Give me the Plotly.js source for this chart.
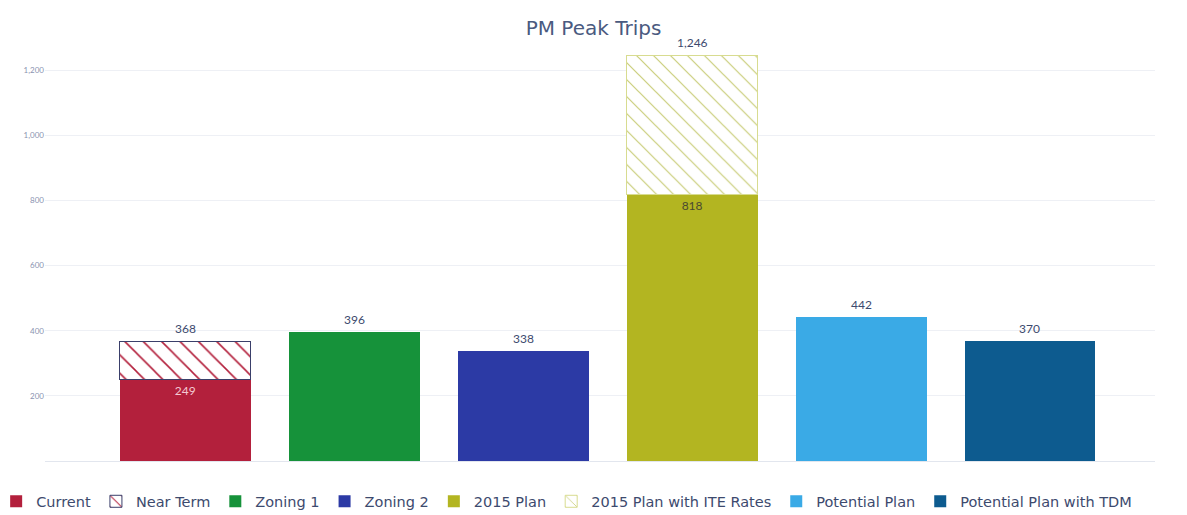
<!DOCTYPE html>
<html>
<head>
<meta charset="utf-8">
<script src="https://cdn.plot.ly/plotly-3.0.1.min.js"></script>
<style>html,body{margin:0;padding:0;background:#fff;}#chart{width:1187px;height:515px;}</style>
</head>
<body>
<div id="chart"></div>
<script>
// Data
const categories = ["Current", "Zoning 1", "Zoning 2", "2015 Plan", "Potential Plan", "Potential Plan with TDM"];
const seriesNames = ["Current", "Near Term", "Zoning 1", "Zoning 2", "2015 Plan", "2015 Plan with ITE Rates", "Potential Plan", "Potential Plan with TDM"];
const currentValue = 249;
const nearTermTotal = 368;
const zoning1Value = 396;
const zoning2Value = 338;
const plan2015Value = 818;
const plan2015IteTotal = 1246;
const potentialPlanValue = 442;
const potentialTdmValue = 370;
const yTickVals = [200, 400, 600, 800, 1000, 1200];
const yTickText = ["200", "400", "600", "800", "1,000", "1,200"];

const fmt = v => v.toLocaleString("en-US");
const lineFree = {width: 0};

const traces = [
  {name: seriesNames[0], x: [categories[0]], y: [currentValue],
   marker: {color: "#b3203c", line: lineFree},
   text: [fmt(currentValue)], textposition: "inside", insidetextanchor: "end",
   textfont: {color: "#f3c9d2", size: 12}},
  {name: seriesNames[1], x: [categories[0]], y: [nearTermTotal - currentValue],
   marker: {color: "#ffffff", line: {width: 1, color: "#3a3f6a"},
            pattern: {shape: "\\", fgcolor: "#b3203c", bgcolor: "#ffffff", size: 13, solidity: 0.12}},
   textposition: "none"},
  {name: seriesNames[2], x: [categories[1]], y: [zoning1Value],
   marker: {color: "#16923a", line: lineFree}, textposition: "none"},
  {name: seriesNames[3], x: [categories[2]], y: [zoning2Value],
   marker: {color: "#2c3aa5", line: lineFree}, textposition: "none"},
  {name: seriesNames[4], x: [categories[3]], y: [plan2015Value],
   marker: {color: "#b3b521", line: lineFree},
   text: [fmt(plan2015Value)], textposition: "inside", insidetextanchor: "end",
   textfont: {color: "#4a4a30", size: 12}},
  {name: seriesNames[5], x: [categories[3]], y: [plan2015IteTotal - plan2015Value],
   marker: {color: "#ffffff", line: {width: 1, color: "#d8dc90"},
            pattern: {shape: "\\", fgcolor: "#c9cd78", bgcolor: "#ffffff", size: 12, solidity: 0.1}},
   textposition: "none"},
  {name: seriesNames[6], x: [categories[4]], y: [potentialPlanValue],
   marker: {color: "#3aaae6", line: lineFree}, textposition: "none"},
  {name: seriesNames[7], x: [categories[5]], y: [potentialTdmValue],
   marker: {color: "#0d5b8f", line: lineFree}, textposition: "none"}
].map(t => Object.assign({type: "bar", hoverinfo: "x+y"}, t));

const totals = [
  [categories[0], nearTermTotal],
  [categories[1], zoning1Value],
  [categories[2], zoning2Value],
  [categories[3], plan2015IteTotal],
  [categories[4], potentialPlanValue],
  [categories[5], potentialTdmValue]
];
const annotations = totals.map(([c, v]) => ({
  x: c, y: v, xref: "x", yref: "y", text: fmt(v), showarrow: false,
  yanchor: "bottom", yshift: 3, font: {size: 12, color: "#3d4a6e"}
}));

const layout = {
  width: 1187, height: 515,
  margin: {l: 45, r: 32, t: 41, b: 54, autoexpand: false},
  paper_bgcolor: "#ffffff", plot_bgcolor: "#ffffff",
  font: {family: "Lato, 'Open Sans', sans-serif", color: "#3d4a6e"},
  title: {text: "PM Peak Trips", x: 0.5, xanchor: "center", y: 0.945, yanchor: "middle",
          font: {family: "'DejaVu Sans', sans-serif", size: 20, color: "#4a5a80"}},
  barmode: "stack", bargap: 0.225,
  showlegend: true,
  legend: {orientation: "h", x: -0.044, xanchor: "left", y: -0.058, yanchor: "top",
           font: {family: "'DejaVu Sans', sans-serif", size: 14.5, color: "#3d4a6e"}, traceorder: "normal",
           itemwidth: 30, tracegroupgap: 0},
  xaxis: {type: "category", range: [-0.83, 5.74], showticklabels: false,
          showgrid: false, zeroline: false, showline: false, ticks: ""},
  yaxis: {range: [0, 1290], tickvals: yTickVals, ticktext: yTickText,
          tickfont: {size: 8, color: "#8a93b0"}, gridcolor: "#eef0f5", gridwidth: 1,
          zeroline: true, zerolinecolor: "#e2e6ee", zerolinewidth: 1, showline: false, ticks: ""},
  annotations: annotations
};

Plotly.newPlot("chart", traces, layout, {displayModeBar: false, staticPlot: true});
</script>
</body>
</html>
